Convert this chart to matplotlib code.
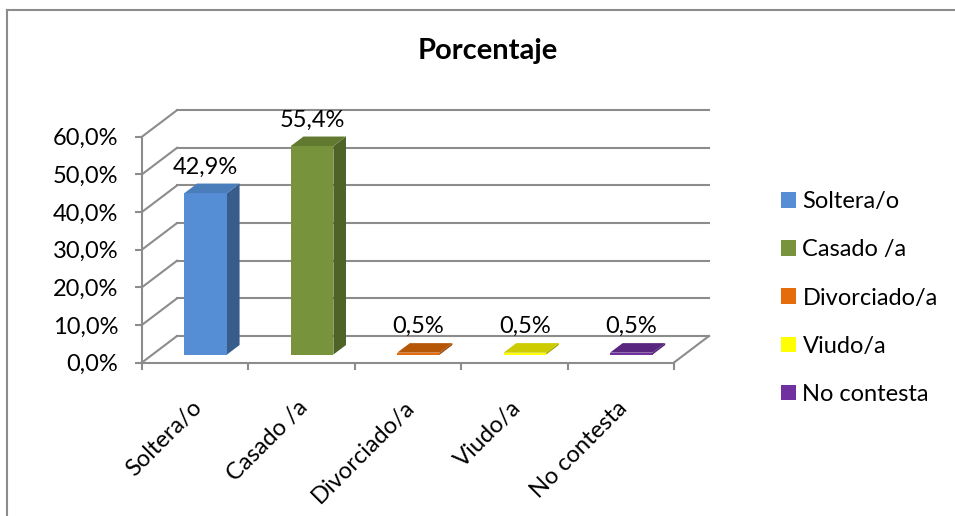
import matplotlib.pyplot as plt
from matplotlib.lines import Line2D
from matplotlib.patches import Patch, Polygon, Rectangle

plt.rcParams["font.family"] = ["Lato", "DejaVu Sans"]

# estado civil de los encuestados
categories = ["Soltera/o", "Casado /a", "Divorciado/a", "Viudo/a", "No contesta"]
values = [42.9, 55.4, 0.5, 0.5, 0.5]
y_ticks = [0, 10, 20, 30, 40, 50, 60]

front_colors = ["#558ED5", "#77933C", "#E46C0A", "#FFFF00", "#7030A0"]
side_colors = ["#385D8A", "#4F6228", "#984807", "#A6A600", "#4B2070"]
top_colors = ["#4A7EBB", "#627A30", "#B65708", "#CCCC00", "#59267F"]

GRID = "#8C8C8C"
W, H = 955, 516
FS = 17

# profundidad del pseudo 3D (en unidades de datos)
DX = 0.329   # categorias
DY = 7.04    # porcentaje
D0, D1 = 0.30, 0.66
BAR_W = 0.40


def fmt_pct(v):
    return f"{v:.1f}".replace(".", ",") + "%"


fig = plt.figure(figsize=(W / 100, H / 100), dpi=100)
ax = fig.add_axes([142 / W, 1 - 362.5 / H, 532 / W, 225.8 / H])
ax.set_xlim(0, len(categories))
ax.set_ylim(0, 60)

for side in ("top", "right"):
    ax.spines[side].set_visible(False)
for side in ("left", "bottom"):
    ax.spines[side].set_color(GRID)
    ax.spines[side].set_linewidth(1.5)

ax.set_yticks(y_ticks)
ax.set_yticklabels([fmt_pct(v) for v in y_ticks], fontsize=FS)
ax.set_xticks(range(len(categories) + 1))
ax.set_xticklabels([])
ax.tick_params(axis="y", length=5, width=1.5, color=GRID, pad=12)
ax.tick_params(axis="x", length=5, width=1.5, color=GRID)

# pared del fondo, pared izquierda y borde del suelo
n = len(categories)
for v in y_ticks:
    ax.plot([DX, n + DX], [v + DY, v + DY], color=GRID, lw=1.5,
            clip_on=False, zorder=1)
    ax.plot([0, DX], [v, v + DY], color=GRID, lw=1.5, clip_on=False, zorder=1)
ax.plot([n, n + DX], [0, DY], color=GRID, lw=1.5, clip_on=False, zorder=1)

for i, v in enumerate(values):
    x0 = i + (1 - BAR_W) / 2 + D0 * DX
    x1 = x0 + BAR_W
    y0 = D0 * DY
    ddx = (D1 - D0) * DX
    ddy = (D1 - D0) * DY
    ax.add_patch(Rectangle((x0, y0), BAR_W, v, facecolor=front_colors[i],
                           edgecolor="none", clip_on=False, zorder=3))
    ax.add_patch(Polygon([(x1, y0), (x1 + ddx, y0 + ddy),
                          (x1 + ddx, y0 + ddy + v), (x1, y0 + v)],
                         facecolor=side_colors[i], edgecolor="none",
                         clip_on=False, zorder=3))
    ax.add_patch(Polygon([(x0, y0 + v), (x1, y0 + v),
                          (x1 + ddx, y0 + v + ddy), (x0 + ddx, y0 + v + ddy)],
                         facecolor=top_colors[i], edgecolor="none",
                         clip_on=False, zorder=3))
    ax.annotate(fmt_pct(v), xy=(x0 + BAR_W / 2, y0 + v), xytext=(0, 26),
                textcoords="offset pixels", ha="center", va="center",
                fontsize=FS, zorder=4, annotation_clip=False)
    ax.annotate(categories[i], xy=(i + 0.5, 0), xytext=(3, -42),
                textcoords="offset pixels", rotation=45, ha="right",
                va="center", rotation_mode="anchor", fontsize=FS,
                annotation_clip=False)

fig.text(487.5 / W, 1 - 51 / H, "Porcentaje", ha="center", va="center",
         fontsize=21, fontweight="bold")

handles = [Patch(facecolor=c, edgecolor="none") for c in front_colors]
fig.legend(handles, categories, loc="center left",
           bbox_to_anchor=(781 / W, 1 - 298 / H), frameon=False, fontsize=FS,
           handlelength=0.64, handleheight=0.64, handletextpad=0.27,
           labelspacing=1.15, borderpad=0, borderaxespad=0)

# marco del grafico
fig.add_artist(Line2D([7 / W, 7 / W], [0, 1 - 10 / H], color=GRID, lw=1.5,
                      transform=fig.transFigure))
fig.add_artist(Line2D([7 / W, 1], [1 - 10 / H, 1 - 10 / H], color=GRID,
                      lw=1.5, transform=fig.transFigure))

fig.savefig("out.png", dpi=100)
